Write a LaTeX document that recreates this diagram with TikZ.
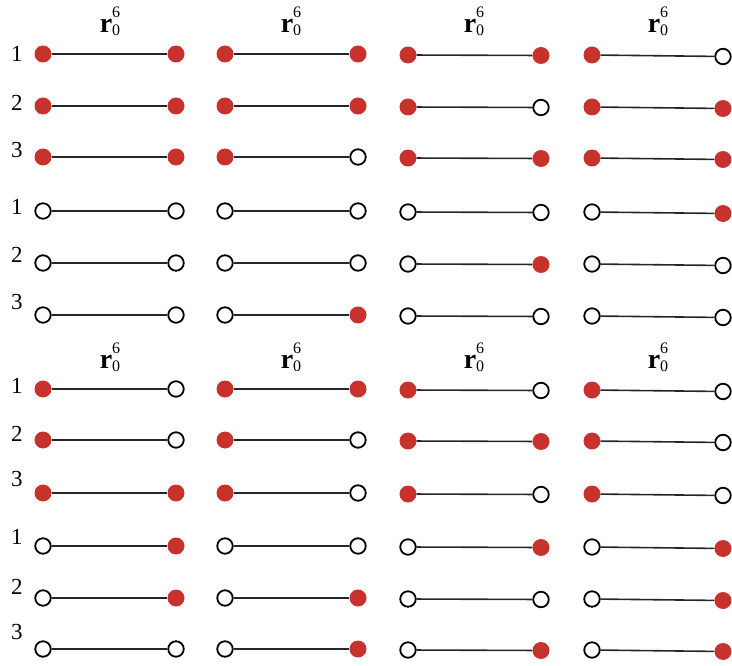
\documentclass[tikz,border=0pt]{standalone}
\usepackage{fontspec}
\setmainfont{Liberation Serif}
\definecolor{dotred}{RGB}{200,50,44}
\tikzset{
 reddot/.style={circle, fill=dotred, draw=none, minimum size=17pt, inner sep=0pt},
 opendot/.style={circle, fill=white, draw=black, line width=1.8pt, minimum size=15.5pt, inner sep=0pt},
 link/.style={line width=1.6pt, draw=black!85},
 rowlabel/.style={font=\fontsize{23}{23}\selectfont, inner sep=0pt},
 coltitle/.style={font=\fontsize{28}{28}\selectfont, inner sep=0pt},
}
\newcommand{\rsixzero}{\textbf{r}\rlap{\raisebox{0.55em}{\fontsize{16}{16}\selectfont 6}}\raisebox{-0.1em}{\fontsize{16}{16}\selectfont 0}}
\begin{document}
\begin{tikzpicture}[x=1pt,y=-1pt]
\useasboundingbox (0,0) rectangle (732,666);
\foreach \bl/\ty in {1/21, 2/357} {
  \foreach \c/\tx in {1/110, 2/291, 3/474, 4/658} {
    \node[coltitle] (t\bl\c) at (\tx,\ty) {\rsixzero};
  }
}
\foreach \id/\y/\ly/\lab/\lf/\ra/\rb/\rc/\rd in {
 a/54/54/1/1/1/1/1/0,
 b/106/103/2/1/1/1/0/1,
 c/157/150/3/1/1/0/1/1,
 d/211/207/1/0/0/0/0/1,
 e/263/255/2/0/0/0/1/0,
 f/315/302/3/0/0/1/0/0,
 g/389/386/1/1/0/1/0/0,
 h/440/434/2/1/0/0/1/0,
 i/493/479/3/1/1/0/0/0,
 j/546/537/1/0/1/0/1/1,
 k/598/587/2/0/1/1/0/1,
 l/649/632/3/0/0/1/1/1}
{
  \node[rowlabel] (lab\id) at (17,\ly) {\lab};
  \foreach \c/\xl/\xr/\dl/\dr/\rf in {1/43/176/0/0/\ra, 2/225/358/0/0/\rb, 3/408/541/1/1.5/\rc, 4/592/723/1/2.5/\rd} {
    \ifnum\lf=1
      \node[reddot] (L\id\c) at (\xl,\y+\dl) {};
    \else
      \node[opendot] (L\id\c) at (\xl,\y+\dl) {};
    \fi
    \ifnum\rf=1
      \node[reddot] (R\id\c) at (\xr,\y+\dr) {};
    \else
      \node[opendot] (R\id\c) at (\xr,\y+\dr) {};
    \fi
    \draw[link] (L\id\c) -- (R\id\c);
  }
}
\end{tikzpicture}
\end{document}
